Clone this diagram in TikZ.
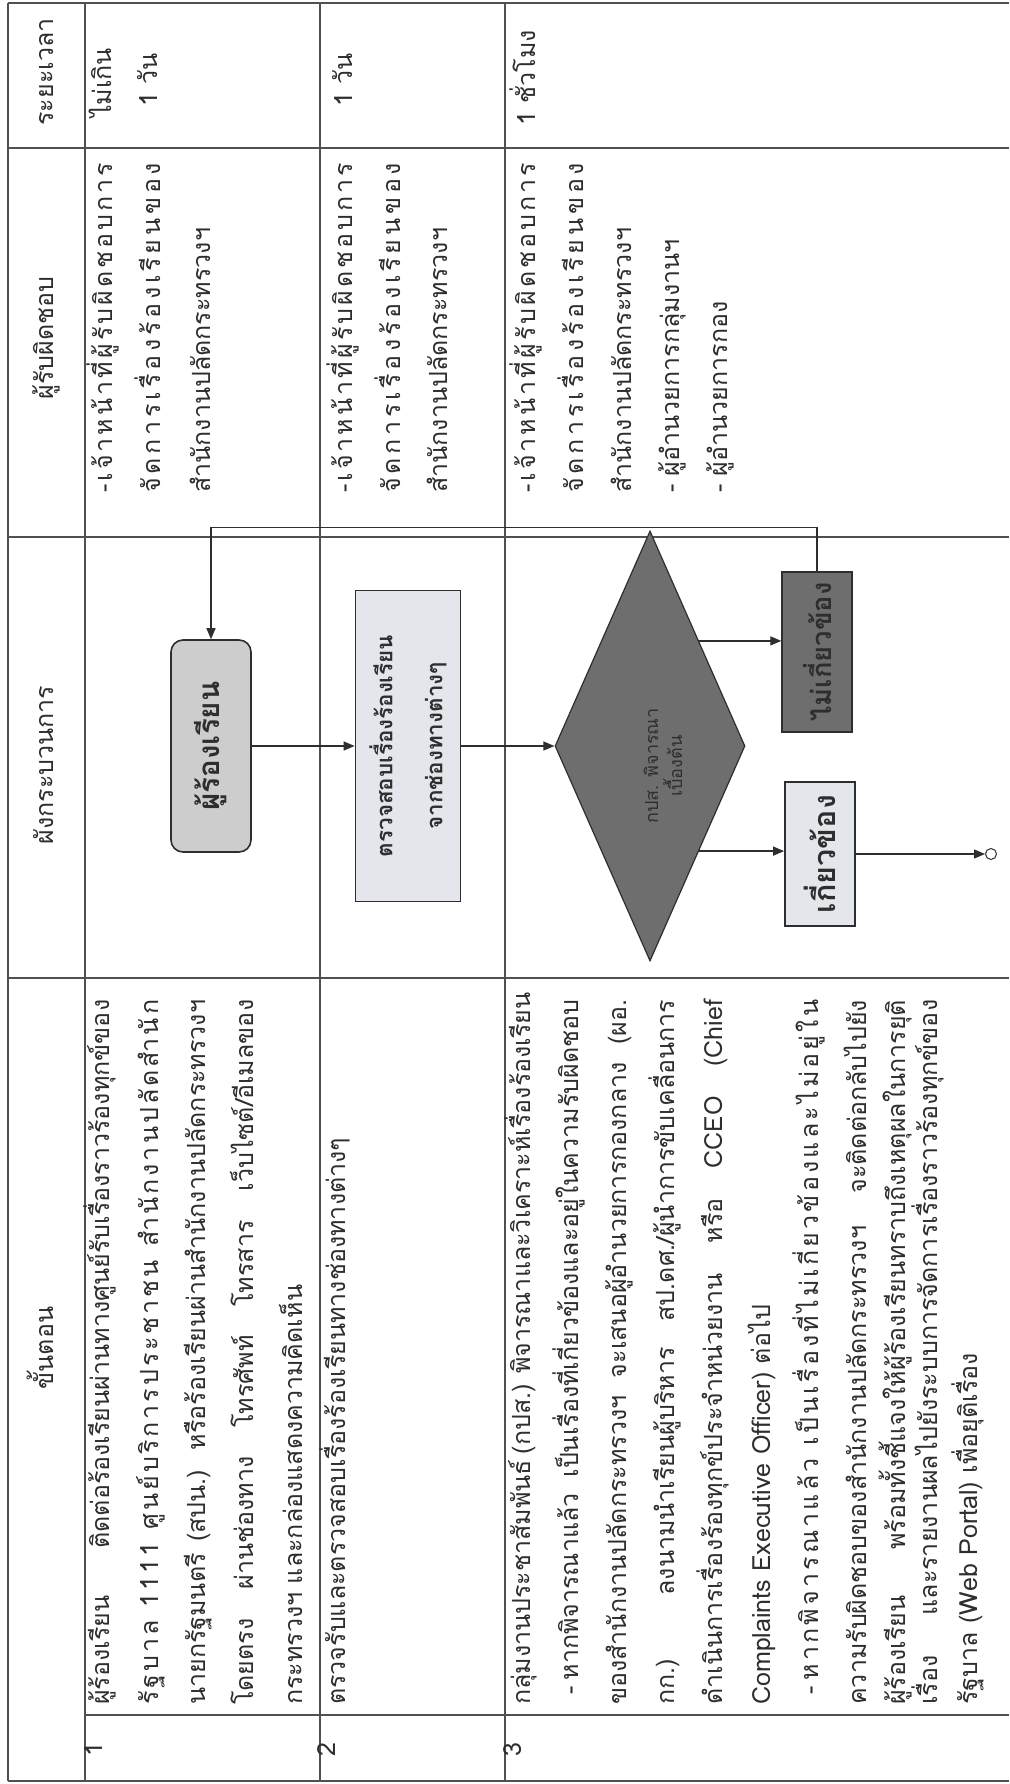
\documentclass[tikz,border=0pt]{standalone}
\usepackage{fontspec}
\setmainfont{Loma}[Script=Thai]
\usepackage{xcolor}
\usepackage{graphicx}
\usetikzlibrary{
  arrows.meta,
  positioning,
  shapes.geometric,
}
\definecolor{ink}{HTML}{2E2E2E}
\definecolor{rulegrey}{HTML}{505050}
\definecolor{boxlight}{HTML}{E3E6EB}
\definecolor{boxgrey}{HTML}{CDCDCD}
\definecolor{boxdark}{HTML}{6E6E6E}
% size the body text so that the step 2 line is as long as in the scan
\newlength\calw
\settowidth\calw{\normalfont\fontsize{24}{24}\selectfont ตรวจรับและตรวจสอบเรื่องร้องเรียนทางช่องทางต่างๆ}
\pgfmathsetmacro\bodypt{24*567/\calw}
\settowidth\calw{\normalfont\bfseries\fontsize{22}{22}\selectfont ตรวจสอบเรื่องร้องเรียน}
\pgfmathsetmacro\chkpt{22*222/\calw}
\newcommand{\bodysize}{\fontsize{\bodypt}{\bodypt}\selectfont}
\newcommand{\boxmid}{\bfseries\fontsize{\chkpt}{50}\selectfont}
\newcommand{\boxsmall}{\fontsize{18}{24}\selectfont}
\newcommand{\jline}[1]{\makebox[705pt][s]{#1}}
\newcommand{\sline}[1]{\makebox[705pt][s]{\spaceskip=0pt plus 1fil\relax #1}}
\newcommand{\dline}[1]{\makebox[330pt][s]{\spaceskip=0pt plus 1fil\relax #1}}
\newcommand{\wgap}{\hspace{10pt plus 1fil}}
\newcommand{\fitw}[2]{\resizebox{#1}{!}{\bfseries\fontsize{24}{24}\selectfont #2}}
\tikzset{
  >={Triangle[length=11pt,width=9pt]},
  rule/.style={draw=rulegrey, line width=2pt},
  grid/.style={draw=rulegrey, line width=1.3pt},
  txt/.style={rotate=90, inner sep=0pt, text=ink, font=\bodysize,
    text height=18pt, text depth=8pt},
  head/.style={txt},
  stepline/.style={txt, anchor=west},
  resline/.style={txt, anchor=west},
  flowtxt/.style={rotate=90, inner sep=0pt, text=ink, align=center},
  greybox/.style={draw=ink, line width=1.6pt, fill=boxgrey,
    rounded corners=12pt, inner sep=0pt},
  lightbox/.style={draw=ink, line width=1.8pt, fill=boxlight, inner sep=0pt},
  darkbox/.style={draw=ink, line width=1.4pt, fill=boxdark, inner sep=0pt},
  decision/.style={diamond, draw=ink, line width=1.2pt, fill=boxdark,
    inner sep=0pt, minimum width=190pt, minimum height=430pt},
  flow/.style={draw=ink, line width=1.3pt, ->},
}

\begin{document}
\begin{tikzpicture}[x=1pt,y=-1pt]
  \fill[white] (0,0) rectangle (1009,1784);
  \useasboundingbox (0,0) rectangle (1009,1784);

  % --- table frame ---
  \foreach \y in {3,148,537,978,1781}
    \draw[rule] (8,\y) -- (1009,\y);
  \draw[grid] (85,1715) -- (1009,1715);
  \foreach \x in {8,85,320,505}
    \draw[grid] (\x,3) -- (\x,1781);

  % --- headings and step numbers ---
  \foreach \y/\lab in {72/ระยะเวลา, 338/ผู้รับผิดชอบ, 765/ผังกระบวนการ, 1348/ขั้นตอน}
    \node[head] (h\y) at (48,\y) {\lab};
  \foreach \x/\n in {97/1, 330/2, 516/3}
    \node[head] (num\n) at (\x,1750) {\n};

  % --- steps (1 = justified, 2 = spread letters, 0 = ragged) ---
  \foreach \x/\just/\lab [count=\k] in {
    104/1/{ผู้ร้องเรียน ติดต่อร้องเรียนผ่านทางศูนย์รับเรื่องราวร้องทุกข์ของ},
    153/2/{รั ฐ บ า ล\wgap 1 1 1 1\wgap ศู น ย์ บ ริ ก า ร ป ร ะ ช า ช น\wgap สำ นั ก ง า น ป ลั ด สำ นั ก},
    200/1/{นายกรัฐมนตรี (สปน.) หรือร้องเรียนผ่านสำนักงานปลัดกระทรวงฯ},
    248/1/{โดยตรง ผ่านช่องทาง โทรศัพท์ โทรสาร เว็บไซต์/อีเมลของ},
    297/0/{กระทรวงฯ และกล่องแสดงความคิดเห็น},
    340/0/{ตรวจรับและตรวจสอบเรื่องร้องเรียนทางช่องทางต่างๆ},
    525/1/{กลุ่มงานประชาสัมพันธ์ (กปส.) พิจารณาและวิเคราะห์เรื่องร้องเรียน},
    573/1/{\hspace*{10pt}-\hspace{6pt}หากพิจารณาแล้ว เป็นเรื่องที่เกี่ยวข้องและอยู่ในความรับผิดชอบ},
    621/1/{ของสำนักงานปลัดกระทรวงฯ จะเสนอผู้อำนวยการกองกลาง (ผอ.},
    669/1/{กก.) ลงนามนำเรียนผู้บริหาร สป.ดศ./ผู้นำการขับเคลื่อนการ},
    717/1/{ดำเนินการเรื่องร้องทุกข์ประจำหน่วยงาน หรือ CCEO (Chief},
    765/0/{Complaints Executive Officer) ต่อไป},
    813/2/{\hspace*{10pt}-\hspace{6pt}ห า ก พิ จ า ร ณ า แ ล้ ว\wgap เ ป็ น เ รื่ อ ง ที่ ไ ม่ เ กี่ ย ว ข้ อ ง แ ล ะ ไ ม่ อ ยู่ ใ น},
    861/1/{ความรับผิดชอบของสำนักงานปลัดกระทรวงฯ จะติดต่อกลับไปยัง},
    900/1/{ผู้ร้องเรียน พร้อมทั้งชี้แจงให้ผู้ร้องเรียนทราบถึงเหตุผลในการยุติ},
    932/1/{เรื่อง และรายงานผลไปยังระบบการจัดการเรื่องราวร้องทุกข์ของ},
    972/0/{รัฐบาล (Web Portal) เพื่อยุติเรื่อง}} {
    \ifcase\just
      \node[stepline] (st\k) at (\x,1705) {\lab};
    \or
      \node[stepline] (st\k) at (\x,1705) {\jline{\lab}};
    \or
      \node[stepline] (st\k) at (\x,1705) {\sline{\lab}};
    \fi
  }

  % --- responsible ---
  \foreach \x/\just/\lab [count=\k] in {
    107/1/{- เ จ้ า ห น้ า ที่ ผู้ รั บ ผิ ด ช อ บ ก า ร},
    155/1/{จั ด ก า ร เ รื่ อ ง ร้ อ ง เ รี ย น ข อ ง},
    205/0/{สำนักงานปลัดกระทรวงฯ},
    347/1/{- เ จ้ า ห น้ า ที่ ผู้ รั บ ผิ ด ช อ บ ก า ร},
    395/1/{จั ด ก า ร เ รื่ อ ง ร้ อ ง เ รี ย น ข อ ง},
    442/0/{สำนักงานปลัดกระทรวงฯ},
    530/1/{- เ จ้ า ห น้ า ที่ ผู้ รั บ ผิ ด ช อ บ ก า ร},
    578/1/{จั ด ก า ร เ รื่ อ ง ร้ อ ง เ รี ย น ข อ ง},
    626/0/{สำนักงานปลัดกระทรวงฯ},
    674/0/{- ผู้อำนวยการกลุ่มงานฯ},
    722/0/{- ผู้อำนวยการกอง}} {
    \ifnum\just=1
      \node[resline] (rs\k) at (\x,493) {\dline{\lab}};
    \else
      \node[resline] (rs\k) at (\x,493) {\lab};
    \fi
  }

  % --- time ---
  \node[head] (tm1a) at (106,83) {ไม่เกิน};
  \node[head] (tm1b) at (152,80) {1 วัน};
  \node[head] (tm2) at (347,80) {1 วัน};
  \node[head] (tm3) at (530,78) {1 ชั่วโมง};

  % --- flow chart ---
  \node[greybox, minimum width=80pt, minimum height=212pt] (comp) at (211,746) {};
  \node[flowtxt] (compt) at (comp) {\fitw{129pt}{ผู้ร้องเรียน}};
  \node[lightbox, minimum width=105pt, minimum height=311pt] (chk) at (408,746) {};
  \node[flowtxt, font=\boxmid] (chkt) at (chk) {ตรวจสอบเรื่องร้องเรียน\\จากช่องทางต่างๆ};
  \node[decision] (dec) at (650,746) {};
  \node[flowtxt, font=\boxsmall] (dect) at (663,766) {กปส. พิจารณา\\เบื้องต้น};
  \node[darkbox, minimum width=70pt, minimum height=160pt] (nrel) at (817,652) {};
  \node[flowtxt] (nrelt) at (nrel) {\fitw{139pt}{ไม่เกี่ยวข้อง}};
  \node[lightbox, minimum width=70pt, minimum height=144pt] (rel) at (820,854) {};
  \node[flowtxt] (relt) at (rel) {\fitw{118pt}{เกี่ยวข้อง}};
  \node[circle, draw=ink, line width=1pt, fill=white, minimum size=11pt,
    inner sep=0pt] (stop) at (991,854) {};

  \draw[flow] (comp) -- (chk);
  \draw[flow] (chk) -- (dec);
  \draw[flow] (dec.65) -- (dec.65 -| nrel.west);
  \draw[flow] (dec.-65) -- (dec.-65 -| rel.west);
  \draw[flow] (rel) -- (stop);
  \draw[flow] (nrel.north) -- ++(0,-44) -| (comp.north);
\end{tikzpicture}
\end{document}
